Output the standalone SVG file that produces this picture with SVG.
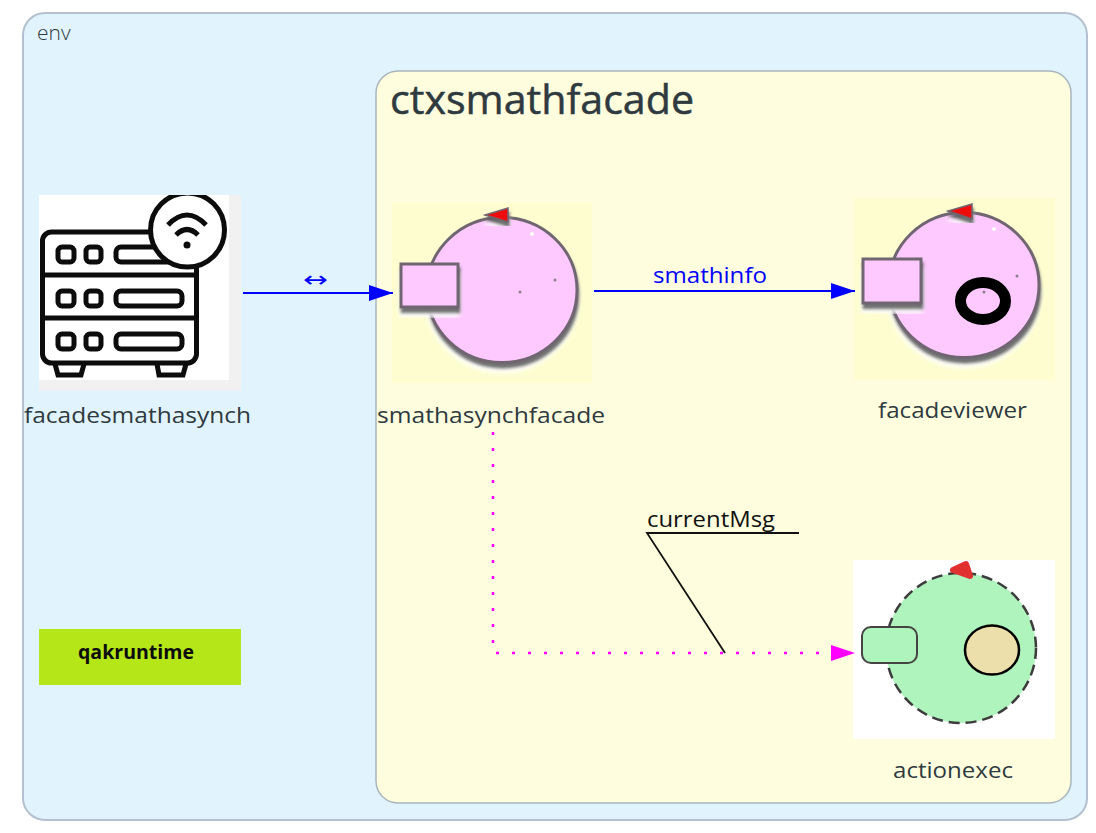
<svg xmlns="http://www.w3.org/2000/svg" width="1096" height="833" viewBox="0 0 1096 833">
<style>
text{font-family:"Open Sans","Noto Sans","DejaVu Sans",sans-serif}
.lbl{font-size:22.5px;fill:#2f3a40}
.pink{fill:#fdc9fe;stroke:#6f6570;stroke-width:3}
.ink{fill:none;stroke:#0c0c0c;stroke-width:5}
</style>
<defs>
<filter id="sh" x="-25%" y="-25%" width="150%" height="150%">
<feGaussianBlur in="SourceAlpha" stdDeviation="2.500" result="b"/>
<feGaussianBlur in="SourceAlpha" stdDeviation="1.800" result="b2"/>
<feOffset in="b" dx="0" dy="9" result="o1"/>
<feFlood flood-color="#fff" flood-opacity=".95"/><feComposite in2="o1" operator="in" result="halo"/>
<feOffset in="b2" dx="1" dy="5" result="o2"/>
<feFlood flood-color="#2a2a2a" flood-opacity=".85"/><feComposite in2="o2" operator="in" result="dark"/>
<feMerge><feMergeNode in="halo"/><feMergeNode in="dark"/><feMergeNode in="SourceGraphic"/></feMerge>
</filter>
<marker id="ab" markerUnits="userSpaceOnUse" markerWidth="24" markerHeight="18" refX="24" refY="9" orient="auto"><path d="M0 1L24 9L0 17Z" fill="#0000ff"/></marker>
<marker id="am" markerUnits="userSpaceOnUse" markerWidth="24" markerHeight="18" refX="24" refY="9" orient="auto"><path d="M0 1L24 9L0 17Z" fill="#ff00ff"/></marker>
</defs>
<rect width="1096" height="833" fill="#fff"/>
<g id="env">
<rect x="23" y="13" width="1064" height="807" rx="22" fill="#e1f4fd" stroke="#b4c0cf" stroke-width="2"/>
<text x="37" y="40" style="font-size:21px;font-weight:300" fill="#2f3a40">env</text>
</g>
<g id="ctxsmathfacade">
<rect x="376" y="71" width="695" height="732" rx="22" fill="#fefede" stroke="#a9b5bd" stroke-width="1.500"/>
<text x="390" y="114" style="font-size:40px" fill="#2f3a40" stroke="#2f3a40" stroke-width=".5" textLength="304" lengthAdjust="spacingAndGlyphs">ctxsmathfacade</text>
</g>
<g id="facadesmathasynch">
<rect x="39" y="195" width="202" height="196" fill="#f1f1f1"/>
<rect x="39" y="195" width="190" height="185" fill="#fff"/>
<rect x="42.500" y="232" width="154" height="131" rx="9" class="ink"/>
<path d="M43 275H197M43 318H197" class="ink"/>
<g class="ink">
<rect x="58" y="247" width="16" height="15" rx="4"/><rect x="86" y="247" width="15" height="15" rx="4"/><rect x="116" y="247" width="68" height="15" rx="5"/>
<rect x="58" y="291" width="16" height="15" rx="4"/><rect x="86" y="291" width="15" height="15" rx="4"/><rect x="116" y="291" width="66" height="15" rx="5"/>
<rect x="58" y="334" width="16" height="15" rx="4"/><rect x="86" y="334" width="15" height="15" rx="4"/><rect x="116" y="334" width="66" height="15" rx="5"/>
<path d="M55 364L58 375H81L84 364M157 364L159 375H183L186 364"/>
</g>
<clipPath id="cl"><rect x="39" y="195" width="190" height="185"/></clipPath>
<circle cx="187.500" cy="230" r="37" fill="#fff" stroke="#0c0c0c" stroke-width="5" clip-path="url(#cl)"/>
<path d="M168 225Q187 205 206 225M176 235Q187 224 198 235" class="ink"/>
<circle cx="187" cy="245" r="3.500" fill="#0c0c0c"/>
<text class="lbl" x="24" y="423" textLength="227" lengthAdjust="spacingAndGlyphs">facadesmathasynch</text>
</g>
<g id="smathasynchfacade">
<rect x="392" y="203" width="200" height="180" fill="#fdfdcf"/>
<ellipse cx="502" cy="290" rx="75" ry="72.500" class="pink" filter="url(#sh)"/>
<path d="M508 208V222L485 215Z" fill="#ee1010" stroke="#6f6570" stroke-width="1.500" filter="url(#sh)"/>
<rect x="401" y="264" width="57" height="43" class="pink" filter="url(#sh)"/>
<circle cx="532" cy="234" r="2" fill="#fff"/><circle cx="520" cy="292" r="1.500" fill="#8a7f8a"/><circle cx="555" cy="280" r="1.500" fill="#8a7f8a"/>
<text class="lbl" x="377" y="423" textLength="228" lengthAdjust="spacingAndGlyphs">smathasynchfacade</text>
</g>
<g id="facadeviewer">
<rect x="854" y="198" width="201" height="182" fill="#fdfdcf"/>
<ellipse cx="964" cy="285" rx="75" ry="72.500" class="pink" filter="url(#sh)"/>
<path d="M972 204V219L948 211Z" fill="#ee1010" stroke="#6f6570" stroke-width="1.500" filter="url(#sh)"/>
<rect x="863" y="259" width="58" height="44" class="pink" filter="url(#sh)"/>
<ellipse cx="983" cy="301" rx="22.500" ry="18.500" fill="none" stroke="#000" stroke-width="11"/>
<circle cx="994" cy="229" r="2" fill="#fff"/><circle cx="1017" cy="276" r="1.500" fill="#8a7f8a"/><circle cx="984" cy="292" r="1.500" fill="#8a7f8a"/>
<text class="lbl" x="878" y="418" textLength="149" lengthAdjust="spacingAndGlyphs">facadeviewer</text>
</g>
<g id="actionexec">
<rect x="853" y="560" width="202" height="179" fill="#fff"/>
<circle cx="961" cy="648" r="75" fill="#aff3bd" stroke="#3c3c3c" stroke-width="2.500" stroke-dasharray="11 6"/>
<path d="M953 570L966 564L970 576Z" fill="#e03030" stroke="#e03030" stroke-width="6" stroke-linejoin="round"/>
<rect x="862" y="627" width="55" height="36" rx="9" fill="#aff3bd" stroke="#444" stroke-width="2"/>
<ellipse cx="992" cy="650" rx="27" ry="24.500" fill="#ecdfab" stroke="#000" stroke-width="2.500"/>
<text class="lbl" x="893" y="778" textLength="120" lengthAdjust="spacingAndGlyphs">actionexec</text>
</g>
<g id="qakruntime">
<rect x="39" y="629" width="202" height="56" fill="#b4e618"/>
<text x="78" y="659" style="font-size:20px;font-weight:700" fill="#0c0c0c" textLength="116" lengthAdjust="spacingAndGlyphs">qakruntime</text>
</g>
<g id="connectors">
<path d="M243 293H393" fill="none" stroke="#0000ff" stroke-width="1.800" marker-end="url(#ab)"/>
<text x="303" y="287" style="font-size:22px;font-family:'DejaVu Sans',sans-serif" fill="#0000ff" textLength="25" lengthAdjust="spacingAndGlyphs">↔</text>
<path d="M594 291H855" fill="none" stroke="#0000ff" stroke-width="1.800" marker-end="url(#ab)"/>
<text x="653" y="283" style="font-size:22px" fill="#0000ff" textLength="114" lengthAdjust="spacingAndGlyphs">smathinfo</text>
<path d="M493 432V653H855" fill="none" stroke="#ff00ff" stroke-width="2.500" stroke-dasharray="3 13" marker-end="url(#am)"/>
<path d="M799 533H647L725 653" fill="none" stroke="#111" stroke-width="1.800"/>
<text x="647" y="527" style="font-size:22px" fill="#111" textLength="128" lengthAdjust="spacingAndGlyphs">currentMsg</text>
</g>
</svg>
